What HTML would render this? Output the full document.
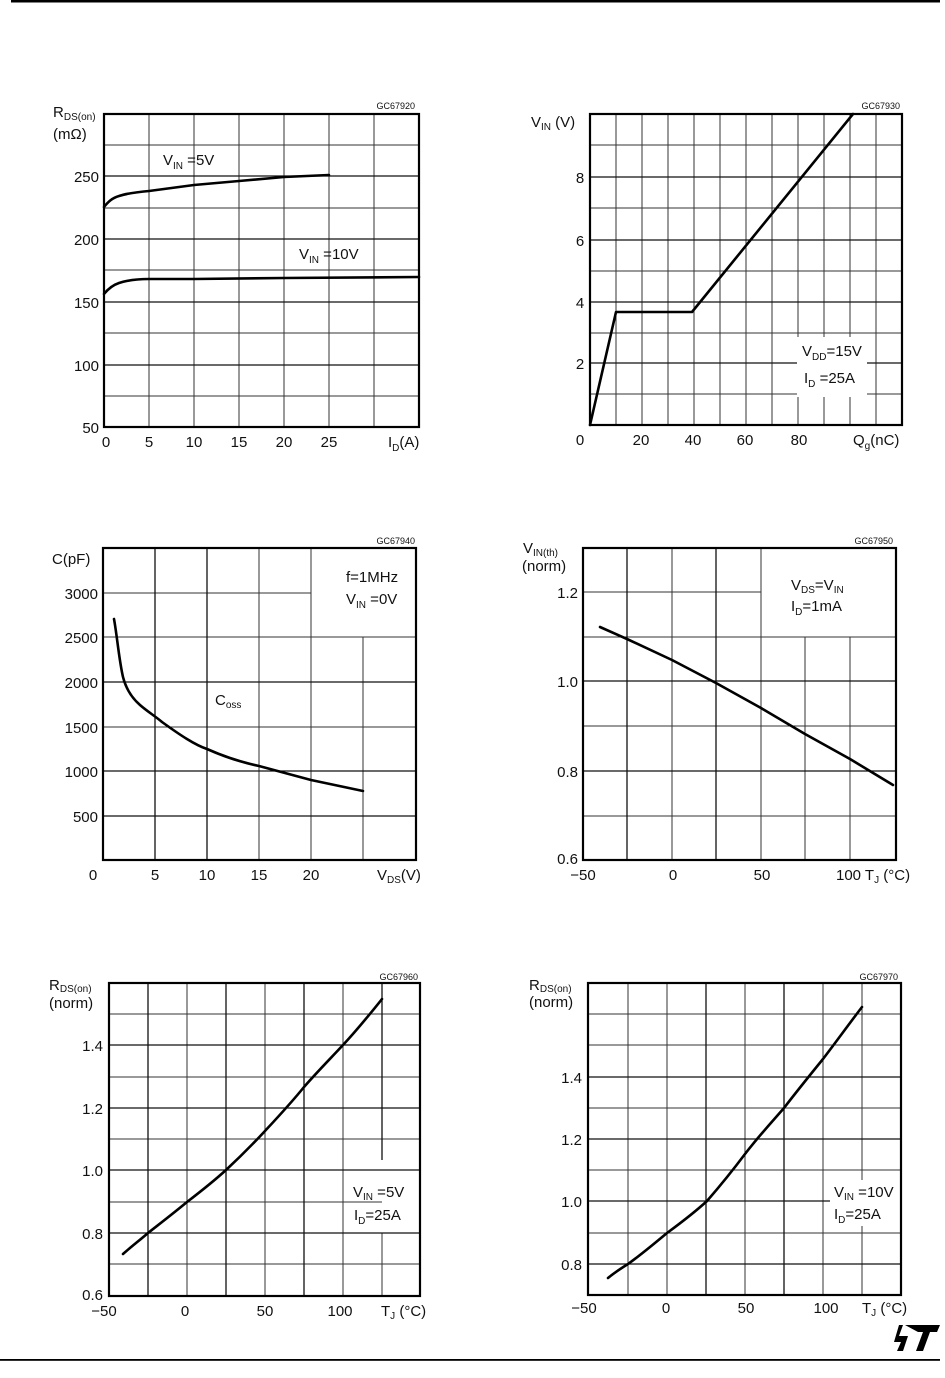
<!DOCTYPE html>
<html><head><meta charset="utf-8"><style>
html,body{margin:0;padding:0;background:#fff}
svg{display:block}
text{font-family:"Liberation Sans",sans-serif;fill:#111}
.t{font-size:15px}
.s{font-size:9px}
.g{stroke:#333;stroke-width:1;fill:none}
.G{stroke:#111;stroke-width:1.3;fill:none}
.f{stroke:#000;stroke-width:2.2;fill:none}
.c{stroke:#000;stroke-width:2.6;fill:none;stroke-linejoin:round;stroke-linecap:round}
</style></head><body>
<svg width="945" height="1378" viewBox="0 0 945 1378" xmlns="http://www.w3.org/2000/svg">
<rect x="11" y="0" width="929" height="2.5" fill="#000"/>
<rect x="0" y="1359" width="940" height="1.8" fill="#000"/>
<!-- ST logo -->
<path d="M905 1325 L940 1325 L937 1332 L930 1332 L923 1351 L916 1351 L923 1332 L918 1332 Z M903 1325 L899 1336 L908 1336 L903 1351 L897 1351 L901 1342 L894 1342 L899 1325 Z" fill="#000"/>

<!-- Chart 1 -->
<text x="415" y="109" class="s" text-anchor="end">GC67920</text>
<path class="g" d="M149 114V427M194 114V427M239 114V427M284 114V427M329 114V427M374 114V427M104 145H419M104 208H419M104 270H419M104 333H419M104 396H419"/>
<path class="G" d="M104 176H419M104 239H419M104 302H419M104 365H419"/>
<rect class="f" x="104" y="114" width="315" height="313"/>
<path class="c" d="M104 207 C108 202,112 198,119 196 C128 193,138 192,149 191 L194 185 L239 181 L284 177 L329 175"/>
<path class="c" d="M104 294 C108 289,113 285,119 283 C128 280,138 279,149 279 L194 279 L284 278 L419 277"/>
<text x="163" y="165" class="t">V<tspan font-size="10" dy="4">IN</tspan><tspan dy="-4"> =5V</tspan></text>
<text x="299" y="259" class="t">V<tspan font-size="10" dy="4">IN</tspan><tspan dy="-4"> =10V</tspan></text>
<text x="53" y="117" class="t">R<tspan font-size="10" dy="3">DS(on)</tspan></text>
<text x="53" y="139" class="t">(mΩ)</text>
<g class="t" text-anchor="end"><text x="99" y="182">250</text><text x="99" y="245">200</text><text x="99" y="308">150</text><text x="99" y="371">100</text><text x="99" y="433">50</text></g>
<g class="t" text-anchor="middle"><text x="106" y="447">0</text><text x="149" y="447">5</text><text x="194" y="447">10</text><text x="239" y="447">15</text><text x="284" y="447">20</text><text x="329" y="447">25</text></g>
<text x="388" y="447" class="t">I<tspan font-size="10" dy="4">D</tspan><tspan dy="-4">(A)</tspan></text>

<!-- Chart 2 -->
<text x="900" y="109" class="s" text-anchor="end">GC67930</text>
<path class="g" d="M616 114V425M642 114V425M668 114V425M694 114V425M720 114V425M746 114V425M772 114V425M798 114V425M824 114V425M850 114V425M876 114V425M590 145H902M590 208H902M590 271H902M590 333H902M590 394H902"/>
<path class="G" d="M590 177H902M590 240H902M590 302H902M590 363H902"/>
<rect x="797" y="337" width="70" height="60" fill="#fff"/>
<rect class="f" x="590" y="114" width="312" height="311"/>
<path class="c" d="M590 425 L616 312 L692 312 L853 114"/>
<text x="802" y="356" class="t">V<tspan font-size="10" dy="4">DD</tspan><tspan dy="-4">=15V</tspan></text>
<text x="804" y="383" class="t">I<tspan font-size="10" dy="4">D</tspan><tspan dy="-4"> =25A</tspan></text>
<text x="531" y="127" class="t">V<tspan font-size="10" dy="3">IN</tspan><tspan dy="-3">  (V)</tspan></text>
<g class="t" text-anchor="middle"><text x="580" y="183">8</text><text x="580" y="246">6</text><text x="580" y="308">4</text><text x="580" y="369">2</text><text x="580" y="445">0</text><text x="641" y="445">20</text><text x="693" y="445">40</text><text x="745" y="445">60</text><text x="799" y="445">80</text></g>
<text x="853" y="445" class="t">Q<tspan font-size="10" dy="4">g</tspan><tspan dy="-4">(nC)</tspan></text>

<!-- Chart 3 -->
<text x="415" y="544" class="s" text-anchor="end">GC67940</text>
<path class="g" d="M259 548V860M311 548V860M363 637V860M103 637H416M103 727H416M103 593H311"/>
<path class="G" d="M155 548V860M207 548V860M103 682H416M103 771H416M103 816H416"/>
<rect class="f" x="103" y="548" width="313" height="312"/>
<path class="c" d="M114 619 C117 635,119 660,123 677 C126 689,132 698,140 705 C148 712,155 716,162 722 C180 735,195 745,207 749 C225 757,240 762,259 766 L311 780 L363 791"/>
<text x="215" y="705" class="t">C<tspan font-size="10" dy="3">oss</tspan></text>
<text x="346" y="582" class="t">f=1MHz</text>
<text x="346" y="604" class="t">V<tspan font-size="10" dy="4">IN</tspan><tspan dy="-4"> =0V</tspan></text>
<text x="52" y="564" class="t">C(pF)</text>
<g class="t" text-anchor="end"><text x="98" y="599">3000</text><text x="98" y="643">2500</text><text x="98" y="688">2000</text><text x="98" y="733">1500</text><text x="98" y="777">1000</text><text x="98" y="822">500</text></g>
<g class="t" text-anchor="middle"><text x="93" y="880">0</text><text x="155" y="880">5</text><text x="207" y="880">10</text><text x="259" y="880">15</text><text x="311" y="880">20</text></g>
<text x="377" y="880" class="t">V<tspan font-size="10" dy="3">DS</tspan><tspan dy="-3">(V)</tspan></text>

<!-- Chart 4 -->
<text x="893" y="544" class="s" text-anchor="end">GC67950</text>
<path class="g" d="M672 548V860M761 548V860M805 637V860M850 637V860M583 637H896M583 726H896M583 816H896M583 592H761"/>
<path class="G" d="M627 548V860M716 548V860M583 681H896M583 771H896"/>
<rect class="f" x="583" y="548" width="313" height="312"/>
<path class="c" d="M600 627 L627 639 L672 660 L716 683 L761 708 L805 734 L850 759 L893 785"/>
<text x="791" y="590" class="t">V<tspan font-size="10" dy="3">DS</tspan><tspan dy="-3">=V</tspan><tspan font-size="10" dy="3">IN</tspan></text>
<text x="791" y="611" class="t">I<tspan font-size="10" dy="4">D</tspan><tspan dy="-4">=1mA</tspan></text>
<text x="523" y="553" class="t">V<tspan font-size="10" dy="3">IN(th)</tspan></text>
<text x="522" y="571" class="t">(norm)</text>
<g class="t" text-anchor="end"><text x="578" y="598">1.2</text><text x="578" y="687">1.0</text><text x="578" y="777">0.8</text><text x="578" y="864">0.6</text></g>
<g class="t" text-anchor="middle"><text x="583" y="880">−50</text><text x="673" y="880">0</text><text x="762" y="880">50</text></g>
<text x="836" y="880" class="t">100 T<tspan font-size="10" dy="3">J</tspan><tspan dy="-3"> (°C)</tspan></text>

<!-- Chart 5 -->
<text x="418" y="980" class="s" text-anchor="end">GC67960</text>
<path class="g" d="M187 983V1296M265 983V1296M343 983V1296M109 1014H420M109 1077H420M109 1139H420M109 1202H382M109 1264H420M382 1233V1296"/>
<path class="G" d="M148 983V1296M226 983V1296M304 983V1296M382 983V1160M109 1045H420M109 1108H420M109 1170H420M109 1233H420"/>
<rect class="f" x="109" y="983" width="311" height="313"/>
<path class="c" d="M123 1254 C132 1246,140 1240,148 1233 C162 1222,175 1212,187 1202 C200 1192,214 1181,226 1170 C240 1157,252 1145,265 1131 C278 1117,292 1102,304 1087 C318 1071,330 1059,343 1045 C357 1030,370 1014,382 999"/>
<text x="353" y="1197" class="t">V<tspan font-size="10" dy="3">IN</tspan><tspan dy="-3"> =5V</tspan></text>
<text x="354" y="1220" class="t">I<tspan font-size="10" dy="4">D</tspan><tspan dy="-4">=25A</tspan></text>
<text x="49" y="990" class="t">R<tspan font-size="10" dy="2">DS(on)</tspan></text>
<text x="49" y="1008" class="t">(norm)</text>
<g class="t" text-anchor="end"><text x="103" y="1051">1.4</text><text x="103" y="1114">1.2</text><text x="103" y="1176">1.0</text><text x="103" y="1239">0.8</text><text x="103" y="1300">0.6</text></g>
<g class="t" text-anchor="middle"><text x="104" y="1316">−50</text><text x="185" y="1316">0</text><text x="265" y="1316">50</text><text x="340" y="1316">100</text></g>
<text x="381" y="1316" class="t">T<tspan font-size="10" dy="3">J</tspan><tspan dy="-3"> (°C)</tspan></text>

<!-- Chart 6 -->
<text x="898" y="980" class="s" text-anchor="end">GC67970</text>
<path class="g" d="M628 983V1295M667 983V1295M745 983V1295M823 983V1295M862 983V1295M588 1014H901M588 1045H901M588 1108H901M588 1170H901M588 1233H901"/>
<path class="G" d="M706 983V1295M784 983V1295M588 1077H901M588 1139H901M588 1201H901M588 1264H901"/>
<rect x="830" y="1180" width="70" height="46" fill="#fff"/>
<rect class="f" x="588" y="983" width="313" height="312"/>
<path class="c" d="M608 1278 C614 1273,620 1269,628 1264 C642 1254,655 1243,667 1233 C682 1222,695 1212,707 1201 C720 1186,733 1170,745 1154 C758 1137,771 1123,784 1108 C797 1091,810 1075,823 1059 C836 1042,849 1024,862 1007"/>
<text x="834" y="1197" class="t">V<tspan font-size="10" dy="3">IN</tspan><tspan dy="-3"> =10V</tspan></text>
<text x="834" y="1219" class="t">I<tspan font-size="10" dy="4">D</tspan><tspan dy="-4">=25A</tspan></text>
<text x="529" y="990" class="t">R<tspan font-size="10" dy="2">DS(on)</tspan></text>
<text x="529" y="1007" class="t">(norm)</text>
<g class="t" text-anchor="end"><text x="582" y="1083">1.4</text><text x="582" y="1145">1.2</text><text x="582" y="1207">1.0</text><text x="582" y="1270">0.8</text></g>
<g class="t" text-anchor="middle"><text x="584" y="1313">−50</text><text x="666" y="1313">0</text><text x="746" y="1313">50</text><text x="826" y="1313">100</text></g>
<text x="862" y="1313" class="t">T<tspan font-size="10" dy="3">J</tspan><tspan dy="-3"> (°C)</tspan></text>
</svg>
</body></html>
